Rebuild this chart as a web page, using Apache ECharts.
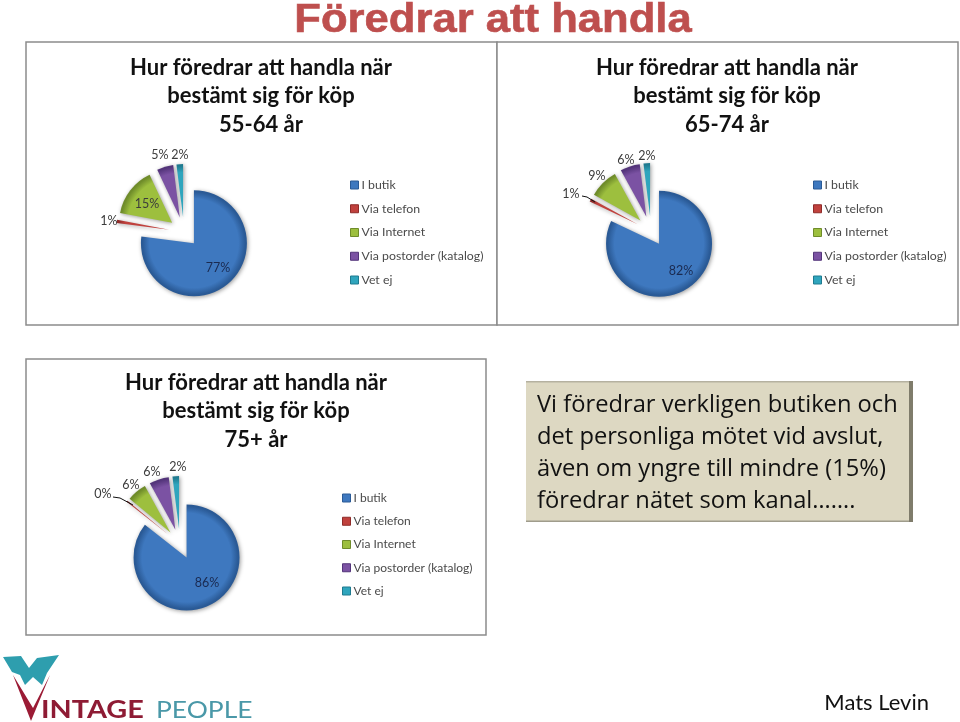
<!DOCTYPE html>
<html><head><meta charset="utf-8">
<style>html,body{margin:0;padding:0;background:#fff}#c{width:960px;height:722px}</style>
<script src="https://cdn.jsdelivr.net/npm/echarts@6/dist/echarts.min.js"></script>
</head><body><div id="c"></div>
<script>
const categories = ['I butik','Via telefon','Via Internet','Via postorder (katalog)','Vet ej'];
const values5564 = [77,1,15,5,2];
const values6574 = [82,1,9,6,2];
const values75 = [85.6,0.4,6,6,2];
const titleLines = ['Hur föredrar att handla när','bestämt sig för köp'];
const ageGroups = ['55-64 år','65-74 år','75+ år'];
const noteLines = ['Vi föredrar verkligen butiken och','det personliga mötet vid avslut,','även om yngre till mindre (15%)','föredrar nätet som kanal…….'];

const panels = [
 {values:values5564,center:[184,232],box:[26,42,471,283],titleX:261,titleY:68,titleStep:28.3,legend:[345,173],gap:9.75,legendSize:12.3,
  labels:[[218,268],[109,221],[147,204],[160,155],[180,155]],leader:null},
 {values:values6574,center:[651,231],box:[497,42,461,283],titleX:727,titleY:68,titleStep:28.3,legend:[808,173],gap:9.75,legendSize:12.3,
  labels:[[681,271],[571,194],[597,176],[626,160],[647,156]],leader:[[582,196],[587,197],[595,202]]},
 {values:values75,center:[180,544],box:[26,359,460,276],titleX:256,titleY:383,titleStep:28.3,legend:[337,486],gap:9.25,legendSize:12,
  labels:[[207,583],[103,494],[131,485],[152,472],[178,467]],leader:[[113,497],[120,498],[133,505]]}
];
const base = ['#3E78BF','#C0413D','#9DBF3E','#7B52A3','#2FA5BD'];
const dark = ['#2A5A96','#8E2B29','#6F8C2A','#53347A','#1F7A8F'];
const R = 53, OFFSET = 15;

function fill(i,p){
  return {type:'radial',x:p.center[0],y:p.center[1],r:R,global:true,colorStops:[
    {offset:0,color:base[i]},{offset:0.84,color:base[i]},{offset:0.97,color:dark[i]},{offset:1,color:dark[i]}]};
}

const slices = panels.map(p=>({
  type:'pie',center:p.center,radius:[0,R],startAngle:90,clockwise:true,
  selectedMode:'multiple',selectedOffset:OFFSET,animation:false,silent:true,
  emphasis:{disabled:true},
  itemStyle:{shadowBlur:4,shadowColor:'rgba(0,0,0,0.4)',shadowOffsetX:1,shadowOffsetY:1},
  label:{show:false},labelLine:{show:false},
  data:categories.map((n,i)=>({name:n,value:p.values[i],selected:true,itemStyle:{color:fill(i,p)}}))
}));
const labelLayers = panels.map(p=>({
  type:'pie',center:p.center,radius:[0,R],startAngle:90,clockwise:true,z:5,
  selectedMode:false,percentPrecision:0,animation:false,silent:true,avoidLabelOverlap:false,
  emphasis:{disabled:true},
  itemStyle:{color:'rgba(0,0,0,0)'},
  label:{show:true,formatter:'{d}%',fontFamily:'Lato',fontSize:12.5,color:'#3c3c3c',position:'outside'},
  labelLine:{show:false},
  labelLayout:(params)=>{const l=p.labels[params.dataIndex];return {x:l[0],y:l[1],align:'center',verticalAlign:'middle',hideOverlap:false};},
  data:categories.map((n,i)=>({name:n,value:p.values[i],label:i===0?{color:'#1a2a50'}:undefined}))
}));

const legends = panels.map(p=>({
  show:true,orient:'vertical',left:p.legend[0],top:p.legend[1],itemWidth:8,itemHeight:8,itemGap:p.gap,
  selectedMode:false,icon:'rect',
  data:categories.map((n,i)=>({name:n,itemStyle:{color:base[i],borderColor:dark[i],borderWidth:1}})),
  textStyle:{fontFamily:'Lato',fontSize:p.legendSize,color:'#4a4a4a',padding:[0,0,0,-2],lineHeight:14}
}));

const graphic = [];
panels.forEach((p,i)=>{
  graphic.push({type:'rect',silent:true,z:-1,shape:{x:p.box[0],y:p.box[1],width:p.box[2],height:p.box[3]},style:{fill:'#fff',stroke:'#8c8c8c',lineWidth:1.5}});
  titleLines.concat(ageGroups[i]).forEach((t,k)=>graphic.push({type:'text',silent:true,style:{x:p.titleX,y:p.titleY+k*p.titleStep,text:t,align:'center',verticalAlign:'middle',fontFamily:'Lato',fontWeight:'bold',fontSize:22,fill:'#111'}}));
  if(p.leader) graphic.push({type:'polyline',silent:true,z:10,shape:{points:p.leader},style:{stroke:'#111',lineWidth:1,fill:null}});
});
graphic.push({type:'text',silent:true,x:493,y:21,scaleX:1.09,style:{x:0,y:0,text:'Föredrar att handla',align:'center',verticalAlign:'middle',fontFamily:'Liberation Sans',fontWeight:'bold',fontSize:40,fill:'#BE4F4E',stroke:'#BE4F4E',lineWidth:0.6,shadowBlur:3,shadowColor:'rgba(0,0,0,0.5)',shadowOffsetX:1,shadowOffsetY:2}});
graphic.push({type:'rect',silent:true,shape:{x:526,y:381,width:387,height:141},style:{fill:'#DDD8C2'}});
graphic.push({type:'rect',silent:true,shape:{x:526,y:381,width:387,height:1.5},style:{fill:'#b5b1a0'}});
graphic.push({type:'rect',silent:true,shape:{x:526,y:520.5,width:387,height:1.5},style:{fill:'#9f9c8c'}});
graphic.push({type:'rect',silent:true,shape:{x:909,y:381,width:4,height:141},style:{fill:'#7f7c6b'}});
noteLines.forEach((t,k)=>graphic.push({type:'text',silent:true,style:{x:537,y:405+k*32,text:t,align:'left',verticalAlign:'middle',fontFamily:'Open Sans',fontSize:23.7,fill:'#111'}}));
graphic.push({type:'text',silent:true,style:{x:929,y:703,text:'Mats Levin',align:'right',verticalAlign:'middle',fontFamily:'Lato',fontSize:22,fill:'#111'}});
// logo
graphic.push({type:'polygon',silent:true,shape:{points:[[3,657],[21,656],[29,668],[37,658],[59,655],[47,673],[42,685],[33,677],[25,685],[20,675],[12,672]]},style:{fill:'#2E9EAE'}});
graphic.push({type:'polygon',silent:true,shape:{points:[[13,675],[31,721],[50,675],[33,708]]},style:{fill:'#9B1B35'}});
graphic.push({type:'text',silent:true,x:41,y:710,scaleX:1.2,style:{x:0,y:0,text:'INTAGE',align:'left',verticalAlign:'middle',fontFamily:'Lato',fontWeight:'bold',fontSize:24,fill:'#8E1B34'}});
graphic.push({type:'text',silent:true,x:156,y:710,scaleX:1.1,style:{x:0,y:0,text:'PEOPLE',align:'left',verticalAlign:'middle',fontFamily:'Lato',fontSize:24,fill:'#4A98A8'}});

const chart = echarts.init(document.getElementById('c'),null,{renderer:'canvas'});
chart.setOption({backgroundColor:'#fff',animation:false,legend:legends,series:slices.concat(labelLayers),graphic});
</script></body></html>
